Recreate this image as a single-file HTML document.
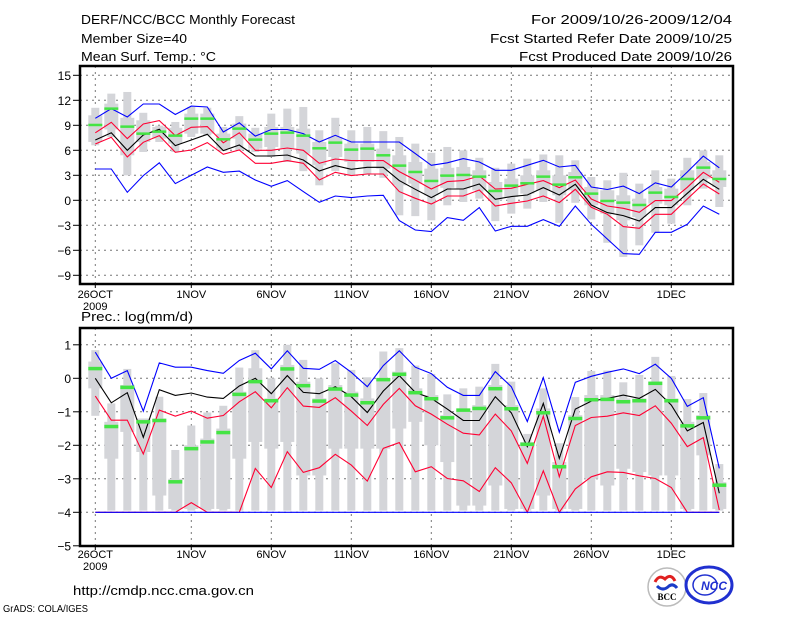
<!DOCTYPE html>
<html><head><meta charset="utf-8"><style>
html,body{margin:0;padding:0;background:#fff;}
svg{display:block;}
text{font-family:"Liberation Sans",sans-serif;fill:#000;}
</style></head><body>
<svg id="chart" width="800" height="618" viewBox="0 0 800 618" xmlns="http://www.w3.org/2000/svg">
<rect x="0" y="0" width="800" height="618" fill="#fff"/>
<text x="81" y="24" font-size="13" textLength="214" lengthAdjust="spacingAndGlyphs">DERF/NCC/BCC Monthly Forecast</text>
<text x="81" y="43" font-size="13" textLength="106" lengthAdjust="spacingAndGlyphs">Member Size=40</text>
<text x="81" y="61" font-size="13" textLength="135" lengthAdjust="spacingAndGlyphs">Mean Surf. Temp.: °C</text>
<text x="531" y="24" font-size="13" textLength="201" lengthAdjust="spacingAndGlyphs">For 2009/10/26-2009/12/04</text>
<text x="490" y="43" font-size="13" textLength="242" lengthAdjust="spacingAndGlyphs">Fcst Started Refer Date 2009/10/25</text>
<text x="519" y="61" font-size="13" textLength="213" lengthAdjust="spacingAndGlyphs">Fcst Produced Date 2009/10/26</text>
<text x="81" y="321" font-size="13" textLength="112" lengthAdjust="spacingAndGlyphs">Prec.: log(mm/d)</text>
<text x="73" y="595" font-size="13" textLength="181" lengthAdjust="spacingAndGlyphs">http://cmdp.ncc.cma.gov.cn</text>
<text x="3" y="612" font-size="10" textLength="85" lengthAdjust="spacingAndGlyphs">GrADS: COLA/IGES</text>
<g>
<circle cx="667" cy="587" r="19" fill="#fff" stroke="#bbb" stroke-width="1.5"/>
<path d="M655 582 q4 -8 10 -3 q6 -6 10 2" fill="none" stroke="#e02020" stroke-width="3"/>
<path d="M657 586 q6 6 12 0 q4 -3 8 2" fill="none" stroke="#1a3cc8" stroke-width="3"/>
<text x="667" y="600" font-size="9" font-weight="bold" text-anchor="middle" style="font-family:'Liberation Serif',serif">BCC</text>
</g>
<g>
<ellipse cx="709" cy="585" rx="23" ry="18" fill="#fff" stroke="#2030d0" stroke-width="3"/>
<ellipse cx="705" cy="585" rx="12" ry="10" fill="none" stroke="#2030d0" stroke-width="1.5"/>
<text x="714" y="590" font-size="12" font-weight="bold" font-style="italic" text-anchor="middle" fill="#2030d0" style="fill:#2030d0">NCC</text>
</g>
</svg>
<script>
// ---- data ----
const dayLabels = ["26OCT","1NOV","6NOV","11NOV","16NOV","21NOV","26NOV","1DEC"];
const dayLabelIdx = [0,6,11,16,21,26,31,36];
const tTicks = [15,12,9,6,3,0,-3,-6,-9];
const pTicks = [1,0,-1,-2,-3,-4,-5];

const tBlueHi = [9.84,11.0,10.0,11.56,11.56,10.3,11.3,11.2,8.2,9.3,7.7,8.5,8.5,8.0,7.0,7.8,7.0,7.0,7.0,7.0,5.6,4.2,4.5,5.0,4.6,3.6,3.6,4.2,4.8,4.0,4.2,1.6,1.3,1.7,0.8,2.1,1.6,3.4,5.3,3.9];
const tBlueLo = [3.76,3.76,0.96,2.96,4.5,2.0,3.0,4.0,3.36,3.5,2.44,1.68,2.36,1.04,-0.24,0.52,0.32,0.52,0.6,-2.44,-3.56,-3.76,-2.08,-2.4,-0.88,-3.68,-3.12,-3.12,-2.32,-3.12,-0.68,-2.88,-4.64,-6.4,-6.48,-3.84,-3.84,-2.88,-0.68,-1.68];
const tRedHi = [8.1,9.36,7.4,9.16,9.56,7.76,8.76,8.84,6.9,8.1,6.0,6.0,6.28,6.0,4.44,4.96,4.76,4.76,4.76,3.44,2.44,1.36,2.24,2.36,2.92,1.36,1.44,1.92,2.36,1.52,2.44,0.16,-0.68,-0.96,-1.44,-0.04,-0.04,1.56,3.36,2.16];
const tRedLo = [6.76,7.56,5.2,6.96,7.76,5.76,6.04,6.92,5.52,6.04,4.44,4.44,4.76,4.44,2.44,3.36,2.96,3.16,3.16,1.04,0.24,-0.44,0.52,0.52,1.24,-0.68,-0.36,-0.08,0.52,-0.28,1.32,-0.84,-1.68,-3.16,-3.36,-1.68,-1.68,0.16,1.96,0.76];
const tMean = [7.24,8.1,6.0,7.84,8.52,6.56,7.24,7.92,5.96,6.64,5.32,5.32,5.44,4.84,3.52,4.16,3.72,3.96,3.96,2.36,1.32,0.32,1.36,1.36,1.96,0.12,0.44,0.64,1.52,0.64,1.92,-0.56,-1.48,-1.84,-2.48,-0.88,-0.88,0.84,2.52,1.32];
const tGreen = [9.04,11.0,8.84,8.0,8.24,7.76,9.8,9.8,7.32,8.6,7.28,8.0,8.12,7.76,6.24,6.92,6.08,6.2,5.4,4.16,3.4,2.32,2.96,3.04,2.84,1.12,1.76,2.04,2.84,1.88,2.76,0.8,-0.08,-0.28,-0.56,0.92,0.4,2.56,3.92,2.56];
const tMax = [11.1,12.8,13.0,10.5,8.96,9.4,11.2,11.1,8.8,10.1,8.7,10.4,11.0,11.2,8.4,9.9,8.4,8.8,8.3,7.6,6.8,5.7,6.4,6.0,5.1,3.9,4.4,5.0,5.5,5.4,4.8,2.8,2.4,3.3,2.0,3.6,2.6,5.1,6.0,5.4];
const tMin = [6.6,7.6,3.0,5.8,7.0,5.8,7.6,7.8,5.9,6.0,5.8,5.2,4.6,3.5,1.8,3.5,3.0,3.2,2.7,-1.8,-1.9,-2.4,-0.6,-0.2,0.2,-2.5,-1.6,-1.0,-0.2,-2.7,-0.3,-2.3,-5.1,-6.8,-5.4,-3.9,-2.8,-0.6,1.4,-0.8];
const tBoxHi = [10.2,11.6,9.9,9.6,8.8,8.7,10.4,10.4,8.0,9.2,8.0,8.8,8.8,8.6,7.0,7.6,6.8,6.8,6.2,5.4,4.6,3.8,3.9,4.0,3.6,2.2,2.6,3.0,3.6,3.0,3.4,1.6,1.2,0.6,0.2,1.6,1.4,3.6,4.6,3.6];
const tBoxLo = [7.0,8.5,5.4,7.0,7.4,6.8,8.0,8.0,6.2,7.4,6.2,6.4,6.2,5.6,4.2,5.2,4.6,4.6,3.8,1.8,2.0,0.6,1.5,1.4,1.2,0.0,0.4,0.8,1.2,0.6,1.2,-0.6,-1.6,-2.4,-2.0,-0.4,-0.6,1.2,2.6,1.6];

const pBlueHi = [0.78,0,0.23,-0.98,0.46,0.33,0.33,0.23,0.15,0.53,0.75,0.28,0.82,0.3,0.27,0.53,0.18,-0.25,0.38,0.82,0.33,0.14,-0.27,-0.51,-0.51,0.2,-0.25,-1.29,0.02,-1.61,-0.12,0.06,0.18,0.28,0.14,0.42,0,-0.84,-0.58,-2.69];
const pBlueLo = [-4,-4,-4,-4,-4,-4,-4,-4,-4,-4,-4,-4,-4,-4,-4,-4,-4,-4,-4,-4,-4,-4,-4,-4,-4,-4,-4,-4,-4,-4,-4,-4,-4,-4,-4,-4,-4,-4,-4,-4];
const pRedHi = [-0.53,-1.25,-1.25,-2.26,-0.95,-1.13,-0.98,-1.19,-1.11,-0.7,-0.4,-0.88,-0.28,-0.83,-0.87,-0.58,-0.98,-1.41,-0.78,-0.3,-0.82,-1.07,-1.37,-1.64,-1.69,-1.07,-1.57,-2.54,-1.13,-2.94,-1.41,-1.17,-1.13,-1.03,-1.11,-0.82,-1.34,-2.04,-1.77,-3.93];
const pRedLo = [-4,-4,-4,-4,-4,-4,-3.71,-4,-4,-4,-2.69,-3.26,-2.19,-2.81,-2.67,-2.27,-2.59,-3.07,-2.09,-1.92,-2.79,-2.64,-2.99,-3.06,-3.38,-2.67,-3.12,-4,-2.76,-4,-3.3,-2.94,-2.79,-2.81,-2.91,-2.99,-3.26,-4,-4,-4];
const pMean = [0,-0.73,-0.43,-1.76,-0.34,-0.51,-0.44,-0.56,-0.6,-0.23,0,-0.46,0.08,-0.42,-0.46,-0.25,-0.55,-1.02,-0.38,0.08,-0.42,-0.6,-0.92,-1.26,-1.26,-0.55,-1.03,-2.04,-0.75,-2.39,-0.92,-0.68,-0.6,-0.5,-0.6,-0.33,-0.8,-1.57,-1.32,-3.43];
const pGreen = [0.29,-1.44,-0.27,-1.3,-1.26,-3.09,-2.1,-1.9,-1.62,-0.48,-0.1,-0.67,0.28,-0.22,-0.68,-0.32,-0.5,-0.73,-0.04,0.12,-0.43,-0.61,-1.18,-0.95,-0.9,-0.31,-0.91,-1.97,-1.03,-2.64,-1.2,-0.64,-0.63,-0.7,-0.67,-0.15,-0.67,-1.42,-1.18,-3.19];
const pMax = [0.84,-0.75,0.28,-1.24,-0.55,-2.14,-1.41,-1.02,-0.82,0.32,0.84,0,1.0,0.55,0,0.45,0.25,0.03,0.8,0.9,0.38,0.13,-0.48,-0.3,-0.25,0.43,-0.1,-1.66,-0.3,-1.94,-0.56,0.22,0.23,-0.12,0.1,0.64,0.07,-0.62,-0.44,-2.56];
const pMin = [-1.12,-3.95,-3.95,-3.95,-3.95,-3.95,-3.95,-3.95,-3.95,-3.95,-3.95,-3.95,-3.95,-3.95,-3.95,-3.95,-3.95,-3.95,-3.95,-3.95,-3.95,-3.95,-3.95,-3.95,-3.95,-3.95,-3.95,-3.95,-3.95,-3.95,-3.95,-3.95,-3.95,-3.95,-3.95,-3.95,-3.95,-3.95,-3.95,-3.95];
const pBoxHi = [0.5,-1.3,-0.2,-1.2,-1.2,-3.0,-2.0,-1.8,-1.5,-0.4,0.3,-0.6,0.4,-0.1,-0.6,-0.2,-0.4,-0.6,0.0,0.2,-0.3,-0.5,-1.1,-0.9,-0.8,-0.2,-0.8,-1.9,-0.9,-2.5,-1.1,-0.5,-0.5,-0.6,-0.6,-0.1,-0.6,-1.3,-1.1,-3.1];
const pBoxLo = [-0.3,-2.4,-1.6,-2.2,-3.5,-3.9,-3.9,-3.9,-3.9,-2.4,-1.9,-2.1,-1.9,-2.9,-2.9,-2.1,-2.1,-2.1,-2.1,-1.5,-1.3,-2.0,-2.5,-3.8,-3.8,-3.2,-3.9,-3.9,-3.5,-3.9,-3.9,-3.0,-3.2,-2.7,-2.8,-2.9,-2.9,-3.9,-2.3,-3.9];

// ---- drawing ----
const NS = "http://www.w3.org/2000/svg";
const svg = document.getElementById("chart");
function mk(tag, attrs, parent){
  const e = document.createElementNS(NS, tag);
  for (const k in attrs) e.setAttribute(k, attrs[k]);
  (parent||svg).appendChild(e);
  return e;
}
const X0 = 80, X1 = 733;
function xd(d){ return 95.3 + 16*d; }
const panels = [
  {name:"temp", top:66, bot:284, y:function(v){return 200.3 - 8.333*v;}, ticks:tTicks,
   max:tMax,min:tMin,bh:tBoxHi,bl:tBoxLo,green:tGreen,gh:2.5,
   lines:[[tBlueHi,"#0000ff","blue-upper"],[tBlueLo,"#0000ff","blue-lower"],[tRedHi,"#ff0033","red-upper"],[tRedLo,"#ff0033","red-lower"],[tMean,"#000","mean-line"]],
   lblY:298, yrY:310},
  {name:"prec", top:328, bot:546, y:function(v){return 378.3 - 33.5*v;}, ticks:pTicks,
   max:pMax,min:pMin,bh:pBoxHi,bl:pBoxLo,green:pGreen,gh:3.5,
   lines:[[pRedLo,"#ff0033","red-lower"],[pBlueLo,"#0000ff","blue-lower"],[pBlueHi,"#0000ff","blue-upper"],[pRedHi,"#ff0033","red-upper"],[pMean,"#000","mean-line"]],
   lblY:558, yrY:570}
];
panels.forEach(function(P){
  const g = mk("g", {});
  
  
  // grid
  P.ticks.forEach(function(t){
    const yy = P.y(t);
    const gl = mk("line", {x1:X0, x2:X1, y1:yy, y2:yy, stroke:"#777", "stroke-width":1, "stroke-dasharray":"2,4"}, g);
    
    
    mk("line", {x1:73, x2:X0, y1:yy, y2:yy, stroke:"#000", "stroke-width":1}, g);
    const tx = mk("text", {x:71, y:yy+4.5, "font-size":12, "text-anchor":"end"}, g);
    tx.textContent = (t<0 ? "\u2212"+(-t) : String(t));
    
    
  });
  dayLabelIdx.forEach(function(d, i){
    const xx = xd(d);
    const vl = mk("line", {x1:xx, x2:xx, y1:P.top, y2:P.bot, stroke:"#777", "stroke-width":1, "stroke-dasharray":"2,4"}, g);
    
    
    mk("line", {x1:xx, x2:xx, y1:P.bot, y2:P.bot+4, stroke:"#000", "stroke-width":1}, g);
    const tx = mk("text", {x:xx, y:P.lblY, "font-size":11, "text-anchor":"middle"}, g);
    tx.textContent = dayLabels[i];
    
    
  });
  const yr = mk("text", {x:83, y:P.yrY, "font-size":11}, g);
  yr.textContent = "2009";
  
  
  // boxes
  for (let d=0; d<40; d++){
    const xx = xd(d);
    const w = mk("rect", {x:xx-4, y:P.y(P.max[d]), width:8, height:P.y(P.min[d])-P.y(P.max[d]), fill:"#d4d5d9"}, g);
    
    
    const b = mk("rect", {x:xx-7, y:P.y(P.bh[d]), width:14, height:P.y(P.bl[d])-P.y(P.bh[d]), fill:"#d4d5d9"}, g);
    
    
  }
  // lines
  P.lines.forEach(function(L){
    let pts = "";
    for (let d=0; d<40; d++) pts += xd(d).toFixed(1)+","+P.y(L[0][d]).toFixed(1)+" ";
    const pl = mk("polyline", {points:pts, fill:"none", stroke:L[1], "stroke-width":1.1}, g);
    
    
  });
  // green markers
  for (let d=0; d<40; d++){
    const m = mk("rect", {x:xd(d)-7, y:P.y(P.green[d])-P.gh/2, width:14, height:P.gh, fill:"#44e444"}, g);
    
    
  }
  const fr = mk("rect", {x:X0, y:P.top, width:X1-X0, height:P.bot-P.top, fill:"none", stroke:"#000", "stroke-width":2.5}, g);
  
  
});
</script>
</body></html>
